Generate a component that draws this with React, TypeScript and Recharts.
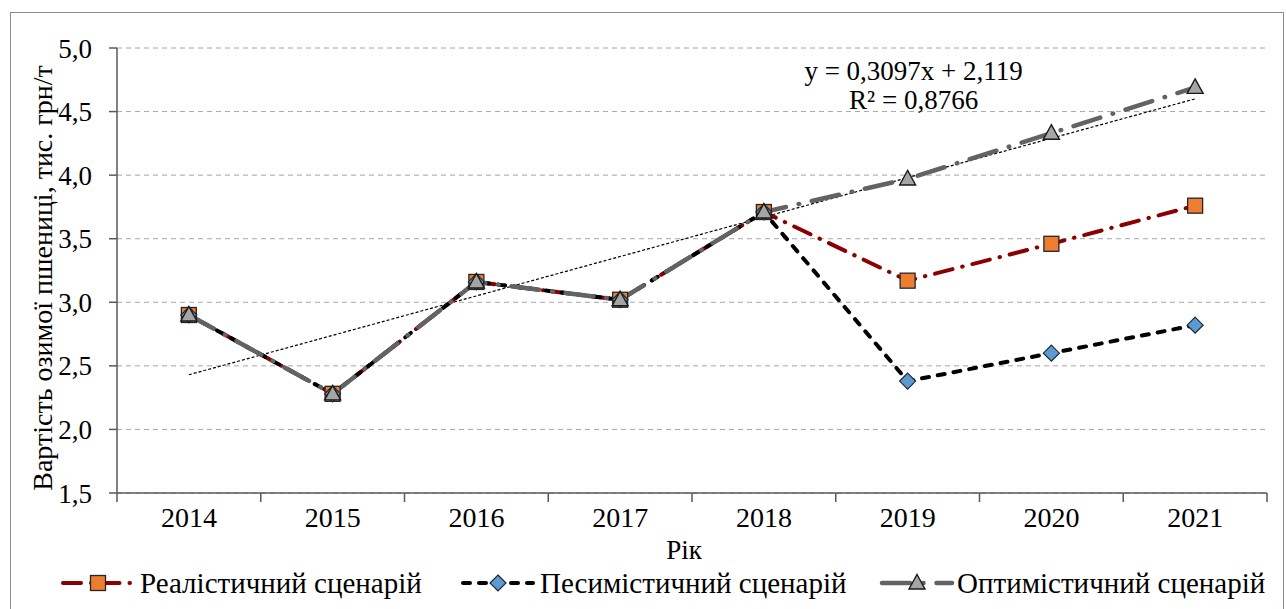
import React from 'react';
import {
  LineChart,
  Line,
  XAxis,
  YAxis,
  CartesianGrid,
  ReferenceLine,
  ReferenceDot,
  Legend,
} from 'recharts';

// values
const years = ['2014', '2015', '2016', '2017', '2018', '2019', '2020', '2021'];
const realistic = [2.9, 2.28, 3.16, 3.02, 3.71, 3.17, 3.46, 3.76];
const pessimistic = [2.9, 2.28, 3.16, 3.02, 3.71, 2.38, 2.6, 2.82];
const optimistic = [2.9, 2.28, 3.16, 3.02, 3.71, 3.97, 4.33, 4.69];
const yTicks = [1.5, 2.0, 2.5, 3.0, 3.5, 4.0, 4.5, 5.0];
const trendEnds = [2.43, 4.6];
const trendText = ['y = 0,3097x + 2,119', 'R² = 0,8766'];
const seriesNames = ['Реалістичний сценарій', 'Песимістичний сценарій', 'Оптимістичний сценарій'];
const yTitle = 'Вартість озимої пшениці, тис. грн/т';
const xTitle = 'Рік';

const data = years.map((year, i) => ({
  year,
  realistic: realistic[i],
  pessimistic: pessimistic[i],
  optimistic: optimistic[i],
}));

const FONT = '"Liberation Serif", "Times New Roman", serif';
const W = 1286;
const H = 609;
const PLOT_LEFT = 117;
const PLOT_RIGHT = 19;
const PLOT_TOP = 48;
const PLOT_BOTTOM = 493;
const HALF_BAND = (W - PLOT_LEFT - PLOT_RIGHT) / years.length / 2;
const AXIS = '#595959';

const RED = '#8B0000';
const GREY = '#636363';

const DASH_REAL = '18 10 0.5 10';
const DASH_PESS = '7 9';
const DASH_OPT = '28 13 0.5 13';

const square = (cx: number, cy: number, key?: string) => (
  <rect key={key} x={cx - 7.5} y={cy - 7.5} width={15} height={15} fill="#ED7D31" stroke="#262626" strokeWidth={1.3} />
);
const diamond = (cx: number, cy: number, key?: string) => (
  <polygon
    key={key}
    points={`${cx},${cy - 8} ${cx + 8},${cy} ${cx},${cy + 8} ${cx - 8},${cy}`}
    fill="#5B9BD5"
    stroke="#262626"
    strokeWidth={1.2}
  />
);
const triangle = (cx: number, cy: number, key?: string) => (
  <polygon
    key={key}
    points={`${cx},${cy - 8.5} ${cx + 8},${cy + 6} ${cx - 8},${cy + 6}`}
    fill="#A5A5A5"
    stroke="#1a1a1a"
    strokeWidth={1.4}
  />
);

const SquareDot = (p: any) => (p.cx == null ? null : square(p.cx, p.cy, `sq-${p.index}`));
const DiamondDot = (p: any) => (p.cx == null ? null : diamond(p.cx, p.cy, `dm-${p.index}`));
const TriangleDot = (p: any) => (p.cx == null ? null : triangle(p.cx, p.cy, `tr-${p.index}`));

const XTick = (props: any) => {
  const { x, payload, index } = props;
  return (
    <g>
      <line x1={x - HALF_BAND} x2={x - HALF_BAND} y1={PLOT_BOTTOM} y2={PLOT_BOTTOM + 9} stroke={AXIS} strokeWidth={1.5} />
      {index === years.length - 1 && (
        <line x1={x + HALF_BAND} x2={x + HALF_BAND} y1={PLOT_BOTTOM} y2={PLOT_BOTTOM + 9} stroke={AXIS} strokeWidth={1.5} />
      )}
      <text x={x} y={PLOT_BOTTOM + 24} textAnchor="middle" dominantBaseline="central" fontSize={28} fontFamily={FONT} fill="#000">
        {payload.value}
      </text>
    </g>
  );
};

const YTitle = () => (
  <text
    x={42}
    y={278}
    transform="rotate(-90 42 278)"
    textAnchor="middle"
    dominantBaseline="central"
    fontSize={28}
    fontFamily={FONT}
    fill="#000"
  >
    {yTitle}
  </text>
);

const XTitle = (props: any) => {
  const vb = props.viewBox || {};
  return (
    <text
      x={vb.x + vb.width / 2 - 8}
      y={PLOT_BOTTOM + 57}
      textAnchor="middle"
      dominantBaseline="central"
      fontSize={27}
      fontFamily={FONT}
      fill="#000"
    >
      {xTitle}
    </text>
  );
};

const TrendLabel = (props: any) => {
  const vb = props.viewBox || {};
  const cx = vb.x + (vb.width || 0) / 2 + 6;
  const cy = vb.y + (vb.height || 0) / 2;
  return (
    <g>
      <text x={cx} y={cy - 15} textAnchor="middle" dominantBaseline="central" fontSize={27} fontFamily={FONT} fill="#000">
        {trendText[0]}
      </text>
      <text x={cx} y={cy + 14} textAnchor="middle" dominantBaseline="central" fontSize={27} fontFamily={FONT} fill="#000">
        {trendText[1]}
      </text>
    </g>
  );
};

const legendItems = [
  { name: seriesNames[0], color: RED, dash: DASH_REAL, width: 4, marker: square, iconLeft: 60, textLeft: 140 },
  { name: seriesNames[1], color: '#000', dash: DASH_PESS, width: 4, marker: diamond, iconLeft: 460, textLeft: 540 },
  { name: seriesNames[2], color: GREY, dash: DASH_OPT, width: 4.5, marker: triangle, iconLeft: 879, textLeft: 957 },
];

const LegendContent = () => (
  <div style={{ position: 'relative', width: W, height: 28, fontFamily: FONT, fontSize: 29, color: '#000' }}>
    {legendItems.map((item) => (
      <React.Fragment key={item.name}>
        <svg style={{ position: 'absolute', left: item.iconLeft, top: 4 }} width={76} height={20}>
          <line
            x1={3}
            x2={73}
            y1={10}
            y2={10}
            stroke={item.color}
            strokeWidth={item.width}
            strokeDasharray={item.dash}
            strokeLinecap="round"
          />
          {item.marker(38, 10)}
        </svg>
        <span style={{ position: 'absolute', left: item.textLeft, top: 0, lineHeight: '28px', whiteSpace: 'nowrap' }}>
          {item.name}
        </span>
      </React.Fragment>
    ))}
  </div>
);

export default function App() {
  return (
    <div style={{ position: 'absolute', left: 0, top: 0, width: W, height: H, background: '#fff', overflow: 'hidden' }}>
      <div
        style={{
          position: 'absolute',
          left: 10,
          top: 12,
          width: W - 12,
          height: H + 20,
          border: '1.5px solid #8c8c8c',
          boxSizing: 'border-box',
        }}
      />
      <LineChart
        width={W}
        height={H}
        data={data}
        margin={{ top: PLOT_TOP, right: PLOT_RIGHT, bottom: H - PLOT_BOTTOM - 40, left: 0 }}
        style={{ position: 'absolute', left: 0, top: 0 }}
      >
        <CartesianGrid vertical={false} stroke="#A6A6A6" strokeDasharray="5 4" strokeWidth={1} />
        <XAxis
          dataKey="year"
          scale="band"
          interval={0}
          height={40}
          tickLine={false}
          axisLine={{ stroke: AXIS, strokeWidth: 1.5 }}
          tick={XTick}
          label={{ content: XTitle }}
        />
        <YAxis
          type="number"
          domain={[1.5, 5]}
          ticks={yTicks}
          interval={0}
          width={PLOT_LEFT}
          tickFormatter={(v: number) => v.toFixed(1).replace('.', ',')}
          axisLine={{ stroke: AXIS, strokeWidth: 1.5 }}
          tickLine={{ stroke: AXIS, strokeWidth: 1.5 }}
          tickSize={8}
          tickMargin={17}
          tick={{ fill: '#000', fontSize: 27, fontFamily: FONT }}
          label={{ content: YTitle }}
        />
        <ReferenceLine
          segment={[
            { x: years[0], y: trendEnds[0] },
            { x: years[years.length - 1], y: trendEnds[1] },
          ]}
          stroke="#000"
          strokeWidth={1.2}
          strokeDasharray="3 2"
        />
        <Legend
          layout="vertical"
          align="center"
          verticalAlign="middle"
          content={LegendContent}
          wrapperStyle={{ left: 0, top: 569, width: W, height: 28 }}
        />
        <Line
          dataKey="realistic"
          name={seriesNames[0]}
          stroke={RED}
          strokeWidth={4}
          strokeDasharray={DASH_REAL}
          strokeLinecap="round"
          dot={SquareDot}
          activeDot={false}
          isAnimationActive={false}
        />
        <Line
          dataKey="pessimistic"
          name={seriesNames[1]}
          stroke="#000"
          strokeWidth={4}
          strokeDasharray={DASH_PESS}
          strokeLinecap="round"
          dot={DiamondDot}
          activeDot={false}
          isAnimationActive={false}
        />
        <Line
          dataKey="optimistic"
          name={seriesNames[2]}
          stroke={GREY}
          strokeWidth={4.5}
          strokeDasharray={DASH_OPT}
          strokeLinecap="round"
          dot={TriangleDot}
          activeDot={false}
          isAnimationActive={false}
        />
        <ReferenceDot x={years[5]} y={4.7} r={0} fill="none" stroke="none" label={{ content: TrendLabel }} />
      </LineChart>
    </div>
  );
}
